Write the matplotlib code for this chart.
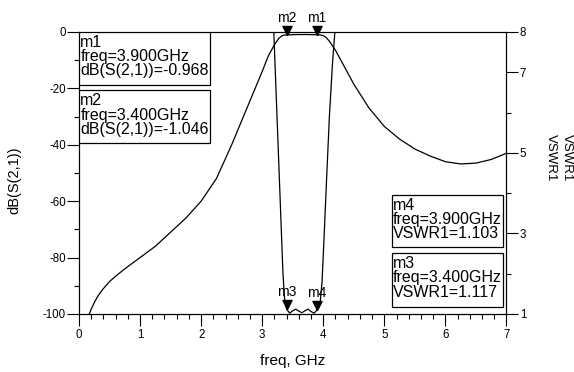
import matplotlib.pyplot as plt
from matplotlib.patches import Rectangle
from matplotlib.ticker import MultipleLocator

plt.rcParams['font.family'] = ['Liberation Sans', 'DejaVu Sans']
plt.rcParams['axes.unicode_minus'] = False

# dB(S(2,1))
s21_freq = [0.17, 0.2, 0.25, 0.3, 0.35, 0.4, 0.5, 0.6, 0.75, 1.0, 1.25, 1.5, 1.75, 2.0,
            2.25, 2.5, 2.75, 3.0, 3.1, 3.2, 3.27, 3.32, 3.36, 3.4, 3.5, 3.6, 3.7, 3.8,
            3.9, 3.95, 4.0, 4.05, 4.1, 4.2, 4.35, 4.5, 4.75, 5.0, 5.25, 5.5, 5.75, 6.0,
            6.25, 6.5, 6.75, 7.0]
s21_db = [-100, -98.3, -96, -94, -92.4, -91, -88.5, -86.6, -84, -80, -76, -71, -66, -60,
          -52, -40, -27, -14, -8.5, -4.5, -2.3, -1.4, -1.1, -1.046, -0.95, -0.9, -0.9, -0.93,
          -0.968, -1.05, -1.3, -2.0, -3.3, -6.5, -12.5, -18.5, -27, -33.5, -38, -41.5, -44, -46,
          -46.8, -46.5, -45.2, -43]

# VSWR1
vswr_freq = [3.15, 3.2, 3.25, 3.3, 3.34, 3.37, 3.4, 3.45, 3.5, 3.55, 3.6, 3.65,
             3.7, 3.75, 3.8, 3.85, 3.9, 3.95, 3.98, 4.01, 4.05, 4.1, 4.15, 4.19, 4.23]
vswr = [9.5, 7.6, 5.6, 3.6, 2.0, 1.3, 1.117, 1.02, 1.08, 1.12, 1.07, 1.03,
        1.08, 1.12, 1.06, 1.02, 1.103, 1.3, 1.8, 2.8, 4.2, 5.9, 7.2, 8.0, 8.8]

markers_db = [('m1', 3.9, -0.968), ('m2', 3.4, -1.046)]
markers_vswr = [('m3', 3.4, 1.117), ('m4', 3.9, 1.103)]

# triangle with its tip on the data point
tri = [(0, 0), (-0.5, 1), (0.5, 1), (0, 0)]

fig = plt.figure(figsize=(5.74, 3.72), dpi=100)
ax = fig.add_axes([0.1376, 0.156, 0.7448, 0.758])
ax2 = ax.twinx()

ax.plot(s21_freq, s21_db, color='black', lw=0.9)
ax2.plot(vswr_freq, vswr, color='black', lw=0.9)

ax.set_xlim(0, 7)
ax.set_ylim(-100, 0)
ax2.set_ylim(1, 8)

ax.xaxis.set_major_locator(MultipleLocator(1))
ax.xaxis.set_minor_locator(MultipleLocator(0.2))
ax.yaxis.set_major_locator(MultipleLocator(20))
ax.yaxis.set_minor_locator(MultipleLocator(10))
ax2.set_yticks([1, 3, 5, 7, 8])
ax2.set_yticks([2, 4, 6], minor=True)

for a in (ax, ax2):
    a.tick_params(which='major', length=8.5, width=0.8, labelsize=8.3, direction='out', pad=1)
    a.tick_params(which='minor', length=3.6, width=0.8, direction='out')
    for sp in a.spines.values():
        sp.set_linewidth(0.8)
ax.tick_params(axis='x', pad=2)

ax.set_xlabel('freq, GHz', fontsize=11, labelpad=10)
ax.set_ylabel('dB(S(2,1))', fontsize=10.5)
ax.yaxis.set_label_coords(-0.135, 0.475)
for xpos in (1.103, 1.142):
    ax2.text(xpos, 0.555, 'VSWR1', transform=ax2.transAxes, rotation=-90,
             fontsize=9.5, va='center', ha='center',
             family=['Liberation Sans Narrow', 'Liberation Sans'])

# marker triangles and names
for name, f, v in markers_db:
    ax.plot(f, v, marker=tri, color='black', markersize=13, clip_on=False, zorder=4)
    ax.annotate(name, (f, v), xytext=(0, 9.5), textcoords='offset points',
                ha='center', va='baseline', fontsize=10, annotation_clip=False)
for name, f, v in markers_vswr:
    ax2.plot(f, v, marker=tri, color='black', markersize=13, clip_on=False, zorder=4)
    ax2.annotate(name, (f, v), xytext=(0, 9.5), textcoords='offset points',
                 ha='center', va='baseline', fontsize=10)

# marker readout boxes
boxes = [
    (0.0, 0.812, 0.306, 0.188, ['m1', 'freq=3.900GHz', 'dB(S(2,1))=-0.968']),
    (0.0, 0.606, 0.306, 0.188, ['m2', 'freq=3.400GHz', 'dB(S(2,1))=-1.046']),
    (0.732, 0.238, 0.259, 0.184, ['m4', 'freq=3.900GHz', 'VSWR1=1.103']),
    (0.732, 0.025, 0.259, 0.191, ['m3', 'freq=3.400GHz', 'VSWR1=1.117']),
]
for x0, y0, w, h, lines in boxes:
    ax2.add_patch(Rectangle((x0, y0), w, h, transform=ax2.transAxes,
                            facecolor='white', edgecolor='black', lw=0.9, zorder=5))
    ax2.text(x0 + 0.003, y0 + h - 0.012, '\n'.join(lines), transform=ax2.transAxes,
             ha='left', va='top', fontsize=11.5, linespacing=0.92, zorder=6)

plt.savefig('out.png', dpi=100)
